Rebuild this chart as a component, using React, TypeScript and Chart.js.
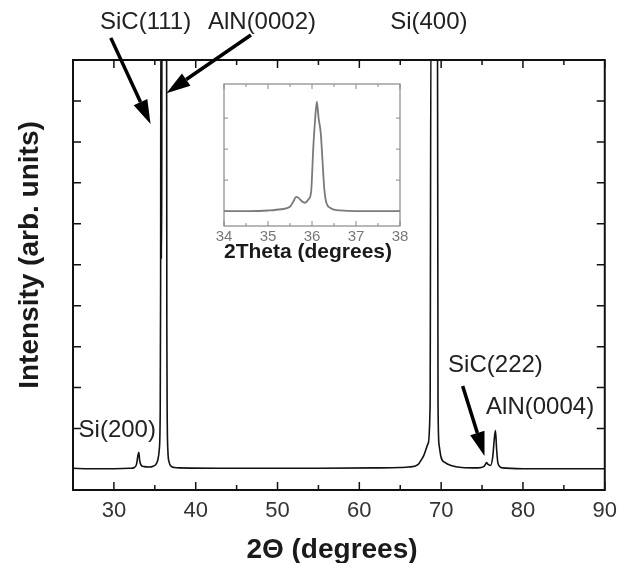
import React, { useEffect, useRef } from "react";
import { Chart, registerables } from "chart.js";

Chart.register(...registerables);

// ---- Main XRD scan (2θ in degrees, intensity in arbitrary units; values > 10 are off-scale) ----
const twoTheta: number[] = [
  25, 27, 30, 32, 32.5, 32.75, 33.04, 33.15, 33.35, 33.7, 34.3, 34.8, 35.1, 35.35, 35.55,
  35.66, 35.71, 35.74, 35.77, 35.8, 35.84, 35.87, 36.1, 36.44, 36.47, 36.52, 36.6, 36.75,
  37.0, 37.4, 38, 45, 55, 62, 65, 66.0, 67.16, 67.77, 68.4, 68.65, 68.76, 69.55, 69.62,
  69.75, 69.99, 70.5, 71.2, 72.5, 74.5, 75.2, 75.45, 75.55, 75.7, 76.03, 76.3, 76.5,
  76.64, 76.78, 76.95, 77.5, 80, 85, 90,
];
const intensity: number[] = [
  0.03, 0.02, 0.02, 0.03, 0.05, 0.12, 0.42, 0.22, 0.1, 0.07, 0.06, 0.08, 0.12, 0.22, 0.5,
  1.4, 4.5, 11, 11, 5.15, 5.15, 11, 11, 11, 3.5, 1.2, 0.45, 0.18, 0.08, 0.05, 0.04, 0.03,
  0.03, 0.04, 0.05, 0.06, 0.12, 0.3, 0.63, 1.6, 11, 11, 1.6, 0.6, 0.3, 0.17, 0.1, 0.05,
  0.04, 0.07, 0.14, 0.17, 0.13, 0.1, 0.3, 0.75, 0.95, 0.5, 0.15, 0.04, 0.02, 0.02, 0.02,
];

// ---- Inset: zoom on the 34–38° region ----
const insetTwoTheta: number[] = [
  34.0, 34.6, 35.0, 35.3, 35.5, 35.58, 35.64, 35.7, 35.78, 35.84, 35.92, 35.98, 36.03,
  36.07, 36.11, 36.15, 36.2, 36.24, 36.28, 36.33, 36.42, 36.52, 36.8, 37.2, 38.0,
];
const insetIntensity: number[] = [
  0, 0, 0.02, 0.06, 0.14, 0.32, 0.46, 0.42, 0.3, 0.27, 0.38, 0.62, 2.07, 2.94, 3.53, 3.0,
  2.5, 1.6, 0.7, 0.25, 0.1, 0.04, 0.01, 0, 0,
];

// ---- Axis ticks ----
const xMajorTicks: number[] = [30, 40, 50, 60, 70, 80, 90];
const yTicks: number[] = [1, 2, 3, 4, 5, 6, 7, 8, 9];
const insetYTicks: number[] = [0, 1, 2, 3];

// ---- Texts ----
const xTitle = "2Θ (degrees)";
const yTitle = "Intensity (arb. units)";
const insetTitle = "2Theta (degrees)";
const peakNames: string[] = ["SiC(111)", "AlN(0002)", "Si(400)", "Si(200)", "SiC(222)", "AlN(0004)"];
// label anchor in data coordinates (2θ, intensity)
const peakLabelX: number[] = [33.87, 48.1, 68.5, 30.41, 76.64, 82.1];
const peakLabelY: number[] = [10.76, 10.76, 10.76, 0.79, 2.38, 1.36];
// arrows in data coordinates: from (x0,y0) to tip (x1,y1)
const arrowFromX: number[] = [29.62, 46.75, 72.63];
const arrowFromY: number[] = [10.54, 10.61, 2.04];
const arrowToX: number[] = [34.48, 36.42, 75.3];
const arrowToY: number[] = [8.44, 9.19, 0.33];

const FONT = '"Liberation Sans", Arial, Helvetica, sans-serif';

function drawArrow(ctx: CanvasRenderingContext2D, x0: number, y0: number, x1: number, y1: number) {
  const ang = Math.atan2(y1 - y0, x1 - x0);
  const headLen = 24;
  const headHalf = 7.5;
  const bx = x1 - headLen * Math.cos(ang);
  const by = y1 - headLen * Math.sin(ang);
  ctx.save();
  ctx.strokeStyle = "#000";
  ctx.fillStyle = "#000";
  ctx.lineWidth = 3.5;
  ctx.beginPath();
  ctx.moveTo(x0, y0);
  ctx.lineTo(bx, by);
  ctx.stroke();
  ctx.beginPath();
  ctx.moveTo(x1, y1);
  ctx.lineTo(bx + headHalf * Math.sin(ang), by - headHalf * Math.cos(ang));
  ctx.lineTo(bx - headHalf * Math.sin(ang), by + headHalf * Math.cos(ang));
  ctx.closePath();
  ctx.fill();
  ctx.restore();
}

const mainDecor = {
  id: "mainDecor",
  afterDraw(chart: any) {
    const { ctx, chartArea: a, scales } = chart;
    const xs = scales.x;
    const ys = scales.y;
    ctx.save();
    // frame
    ctx.strokeStyle = "#111";
    ctx.lineWidth = 2;
    ctx.strokeRect(a.left, a.top, a.right - a.left, a.bottom - a.top);
    // x ticks (inward, bottom and top)
    ctx.lineWidth = 1.5;
    xs.ticks.forEach((t: any) => {
      const px = xs.getPixelForValue(t.value);
      const len = xMajorTicks.includes(t.value) ? 8 : 5;
      ctx.beginPath();
      ctx.moveTo(px, a.bottom);
      ctx.lineTo(px, a.bottom - len);
      ctx.moveTo(px, a.top);
      ctx.lineTo(px, a.top + len);
      ctx.stroke();
    });
    // y ticks (inward, left and right)
    yTicks.forEach((v) => {
      const py = ys.getPixelForValue(v);
      ctx.beginPath();
      ctx.moveTo(a.left, py);
      ctx.lineTo(a.left + 8, py);
      ctx.moveTo(a.right, py);
      ctx.lineTo(a.right - 8, py);
      ctx.stroke();
    });
    // axis titles
    ctx.fillStyle = "#1a1a1a";
    ctx.font = `bold 28px ${FONT}`;
    ctx.textAlign = "center";
    ctx.textBaseline = "alphabetic";
    ctx.fillText(xTitle, 332, 558);
    ctx.save();
    ctx.translate(38, 255);
    ctx.rotate(-Math.PI / 2);
    ctx.fillText(yTitle, 0, 0);
    ctx.restore();
    // peak labels
    ctx.fillStyle = "#222";
    ctx.font = `24px ${FONT}`;
    peakNames.forEach((name, i) => {
      ctx.fillText(name, xs.getPixelForValue(peakLabelX[i]), ys.getPixelForValue(peakLabelY[i]));
    });
    // arrows
    arrowFromX.forEach((_, i) => {
      drawArrow(
        ctx,
        xs.getPixelForValue(arrowFromX[i]),
        ys.getPixelForValue(arrowFromY[i]),
        xs.getPixelForValue(arrowToX[i]),
        ys.getPixelForValue(arrowToY[i])
      );
    });
    ctx.restore();
  },
};

const insetDecor = {
  id: "insetDecor",
  beforeDraw(chart: any) {
    const { ctx, chartArea: a } = chart;
    ctx.save();
    ctx.fillStyle = "#fff";
    ctx.fillRect(a.left, a.top, a.right - a.left, a.bottom - a.top);
    ctx.restore();
  },
  afterDraw(chart: any) {
    const { ctx, chartArea: a, scales } = chart;
    const xs = scales.x;
    const ys = scales.y;
    ctx.save();
    ctx.strokeStyle = "#888";
    ctx.lineWidth = 1.2;
    ctx.strokeRect(a.left, a.top, a.right - a.left, a.bottom - a.top);
    ctx.lineWidth = 1;
    xs.ticks.forEach((t: any) => {
      const px = xs.getPixelForValue(t.value);
      const len = Number.isInteger(t.value) ? 5 : 3;
      ctx.beginPath();
      ctx.moveTo(px, a.bottom);
      ctx.lineTo(px, a.bottom - len);
      ctx.moveTo(px, a.top);
      ctx.lineTo(px, a.top + len);
      ctx.stroke();
    });
    insetYTicks.forEach((v) => {
      const py = ys.getPixelForValue(v);
      ctx.beginPath();
      ctx.moveTo(a.left, py);
      ctx.lineTo(a.left + 4, py);
      ctx.moveTo(a.right, py);
      ctx.lineTo(a.right - 4, py);
      ctx.stroke();
    });
    ctx.fillStyle = "#1a1a1a";
    ctx.font = `bold 21px ${FONT}`;
    ctx.textAlign = "center";
    ctx.textBaseline = "alphabetic";
    ctx.fillText(insetTitle, (a.left + a.right) / 2 - 4, a.bottom + 32);
    ctx.restore();
  },
};

export default function App() {
  const mainRef = useRef<HTMLCanvasElement | null>(null);
  const insetRef = useRef<HTMLCanvasElement | null>(null);

  useEffect(() => {
    if (!mainRef.current || !insetRef.current) return;
    const main = new Chart(mainRef.current, {
      type: "line",
      data: {
        datasets: [
          {
            data: twoTheta.map((x, i) => ({ x, y: intensity[i] })),
            borderColor: "#111",
            borderWidth: 1.6,
            pointRadius: 0,
            cubicInterpolationMode: "monotone",
            fill: false,
          },
        ],
      },
      options: {
        responsive: false,
        animation: false,
        layout: { padding: { left: 73, top: 60, right: 17, bottom: 0 } },
        plugins: { legend: { display: false }, tooltip: { enabled: false } },
        scales: {
          x: {
            type: "linear",
            min: 25,
            max: 90,
            grid: { display: false, drawTicks: false },
            border: { display: false },
            ticks: {
              stepSize: 5,
              autoSkip: false,
              maxRotation: 0,
              padding: 8,
              color: "#333",
              font: { family: FONT, size: 22 },
              callback: (v: any) => (xMajorTicks.includes(Number(v)) ? String(v) : ""),
            },
            afterFit: (s: any) => {
              s.height = 73;
            },
          },
          y: { type: "linear", display: false, min: -0.5, max: 10 },
        },
      },
      plugins: [mainDecor],
    } as any);

    const inset = new Chart(insetRef.current, {
      type: "line",
      data: {
        datasets: [
          {
            data: insetTwoTheta.map((x, i) => ({ x, y: insetIntensity[i] })),
            borderColor: "#7a7a7a",
            borderWidth: 1.8,
            pointRadius: 0,
            cubicInterpolationMode: "monotone",
            fill: false,
          },
        ],
      },
      options: {
        responsive: false,
        animation: false,
        layout: { padding: { left: 24, top: 6, right: 25, bottom: 0 } },
        plugins: { legend: { display: false }, tooltip: { enabled: false } },
        scales: {
          x: {
            type: "linear",
            min: 34,
            max: 38,
            grid: { display: false, drawTicks: false },
            border: { display: false },
            ticks: {
              stepSize: 0.5,
              autoSkip: false,
              maxRotation: 0,
              padding: 2,
              color: "#777",
              font: { family: FONT, size: 15 },
              callback: (v: any) => (Number.isInteger(Number(v)) ? String(v) : ""),
            },
            afterFit: (s: any) => {
              s.height = 39;
            },
          },
          y: { type: "linear", display: false, min: -0.48, max: 4.1 },
        },
      },
      plugins: [insetDecor],
    } as any);

    return () => {
      main.destroy();
      inset.destroy();
    };
  }, []);

  return (
    <div style={{ position: "absolute", left: 0, top: 0, width: 625, height: 563, background: "#fff" }}>
      <canvas ref={mainRef} width={625} height={563} style={{ position: "absolute", left: 0, top: 0 }} />
      <canvas ref={insetRef} width={225} height={187} style={{ position: "absolute", left: 200, top: 78 }} />
    </div>
  );
}
